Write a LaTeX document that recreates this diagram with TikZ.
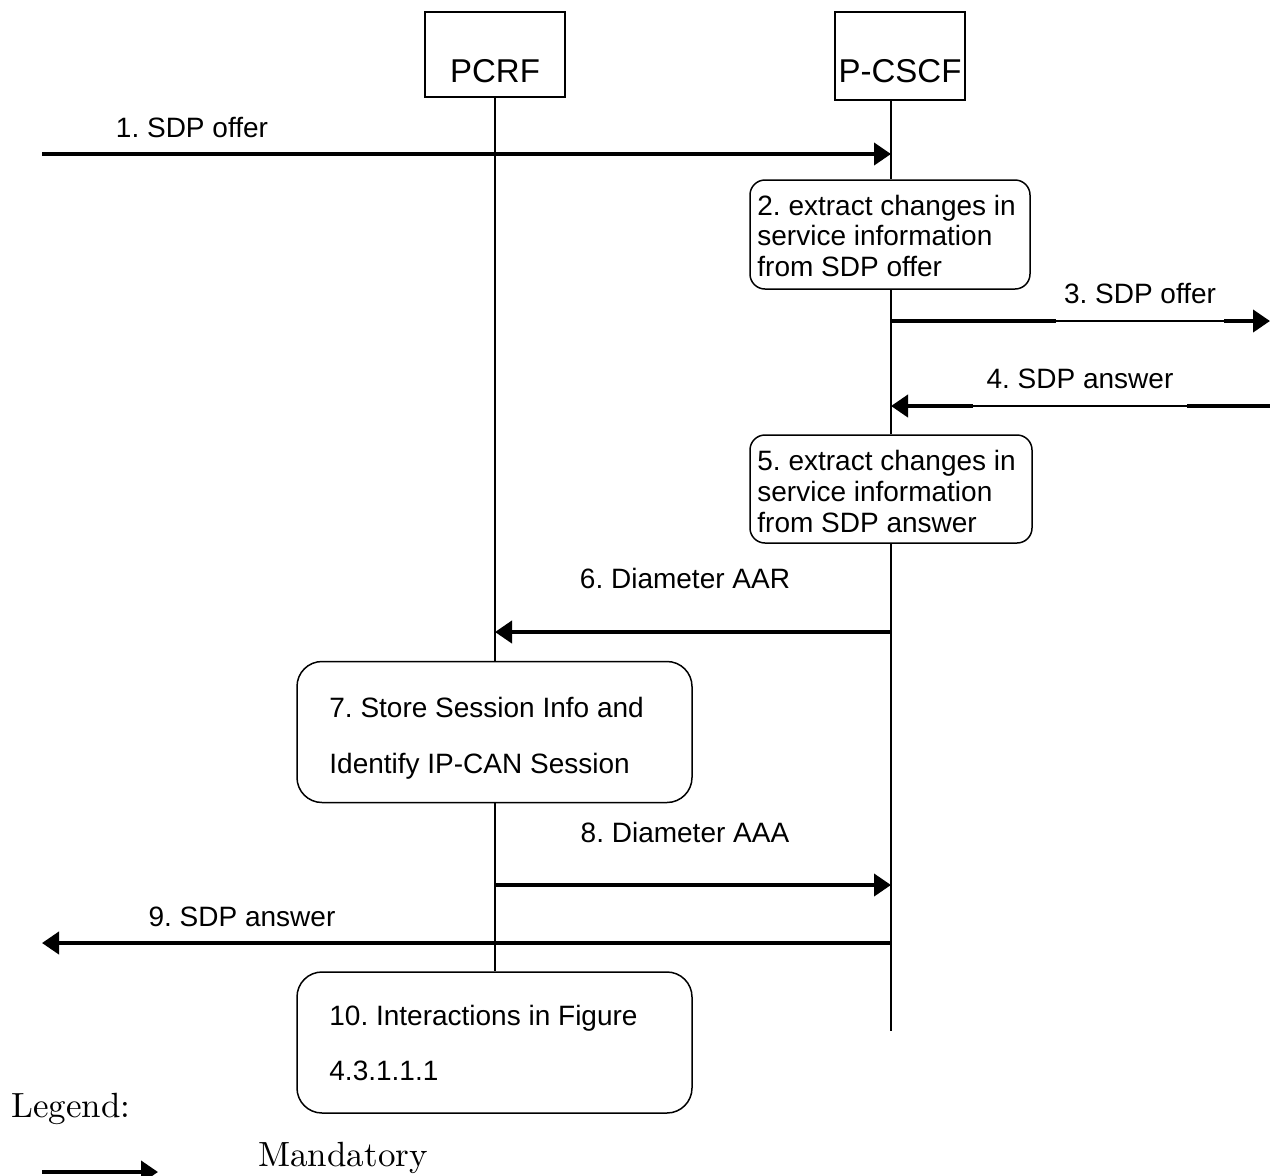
\documentclass[tikz,border=0pt]{standalone}
\usepackage{fontspec}
\newfontfamily\arialf{Liberation Sans}
\usetikzlibrary{arrows.meta}
\frenchspacing
\begin{document}
\begin{tikzpicture}[x=0.5pt,y=-0.5pt,
  msg/.style={line width=2pt,-{Triangle[length=8.5pt,width=11pt]}},
  thickseg/.style={line width=2pt},
  life/.style={line width=0.75pt},
  ent/.style={draw,line width=0.75pt,inner sep=0pt,minimum width=70pt,minimum height=42.5pt},
  rbox/.style={draw,line width=0.75pt,inner sep=0pt,rounded corners=7.5pt},
  bigbox/.style={draw,line width=0.75pt,inner sep=0pt,rounded corners=12.5pt,minimum width=197.5pt,minimum height=70.5pt},
  lbl/.style={inner sep=0pt,font=\arialf\fontsize{14}{17}\selectfont},
  entlbl/.style={inner sep=0pt,font=\arialf\fontsize{16.5}{19}\selectfont},
  serif/.style={inner sep=0pt,font=\fontsize{10}{12}\selectfont}]
\useasboundingbox (0,0) rectangle (1270,1175);
% entities
\node[ent] (pcrf) at (495,54.5) {};
\node[entlbl,anchor=base] (pcrft) at (495,82) {PCRF};
\node[ent,minimum width=65pt,minimum height=44pt] (pcscf) at (900,56) {};
\node[entlbl,anchor=base] (pcscft) at (900,82) {P-CSCF};
\coordinate (lx) at (891,0);
\coordinate (px) at (495,0);
% boxes
\node[rbox,minimum width=140pt,minimum height=54.5pt] (b2) at (890,234.5) {};
\node[rbox,minimum width=141pt,minimum height=54pt] (b5) at (891,489) {};
\node[bigbox] (b7) at (494.5,732) {};
\node[bigbox] (b10) at (494.5,1042.5) {};
% lifelines
\draw[life] (pcscf.south -| lx) -- (b2.north -| lx);
\draw[life] (b2.south -| lx) -- (b5.north -| lx);
\coordinate (lend) at (891,1031);
\draw[life] (b5.south -| lx) -- (lend);
\draw[life] (pcrf.south -| px) -- (b7.north -| px);
\draw[life] (b7.south -| px) -- (b10.north -| px);
% box texts
\node[lbl,anchor=base west] (t2a) at (757,215) {2. extract changes in};
\node[lbl,anchor=base west] (t2b) at (757,245) {service information};
\node[lbl,anchor=base west] (t2c) at (757,276) {from SDP offer};
\node[lbl,anchor=base west] (t5a) at (757,470) {5. extract changes in};
\node[lbl,anchor=base west] (t5b) at (757,501) {service information};
\node[lbl,anchor=base west] (t5c) at (757,532) {from SDP answer};
\node[lbl,anchor=base west] (t7a) at (329,717) {7. Store Session Info and};
\node[lbl,anchor=base west] (t7b) at (329,773) {Identify IP-CAN Session};
\node[lbl,anchor=base west] (t10a) at (329,1025) {10. Interactions in Figure};
\node[lbl,anchor=base west] (t10b) at (329,1080) {4.3.1.1.1};
% message 1
\coordinate (a1s) at (42,154);
\draw[msg] (a1s) -- (a1s -| lx);
\node[lbl,anchor=base] (l1) at (192,137) {1. SDP offer};
% message 3
\coordinate (a3s) at (891,321);
\coordinate (a3g1) at (1056,321);
\coordinate (a3g2) at (1224,321);
\coordinate (a3e) at (1270,321);
\draw[thickseg] (a3s) -- (a3g1);
\draw[life] (a3g1) -- (a3g2);
\draw[msg] (a3g2) -- (a3e);
\node[lbl,anchor=base] (l3) at (1140,303) {3. SDP offer};
% message 4
\coordinate (a4s) at (1270,406);
\coordinate (a4g1) at (1187,406);
\coordinate (a4g2) at (973,406);
\coordinate (a4e) at (891,406);
\draw[thickseg] (a4s) -- (a4g1);
\draw[life] (a4g1) -- (a4g2);
\draw[msg] (a4g2) -- (a4e);
\node[lbl,anchor=base] (l4) at (1080,388) {4. SDP answer};
% message 6
\coordinate (a6s) at (891,632);
\draw[msg] (a6s) -- (a6s -| px);
\node[lbl,anchor=base] (l6) at (685,588) {6. Diameter AAR};
% message 8
\coordinate (a8s) at (495,885);
\draw[msg] (a8s) -- (a8s -| lx);
\node[lbl,anchor=base] (l8) at (685,842) {8. Diameter AAA};
% message 9
\coordinate (a9s) at (891,943);
\coordinate (a9e) at (42,943);
\draw[msg] (a9s) -- (a9e);
\node[lbl,anchor=base] (l9) at (242,926) {9. SDP answer};
% legend
\node[serif,anchor=base west] (leg) at (11,1117) {\scalebox{1.75}{Legend:}};
\node[serif,anchor=base west] (mand) at (258,1166) {\scalebox{1.75}{Mandatory}};
\coordinate (lgs) at (42,1172);
\coordinate (lge) at (158,1172);
\draw[msg] (lgs) -- (lge);
\end{tikzpicture}
\end{document}
